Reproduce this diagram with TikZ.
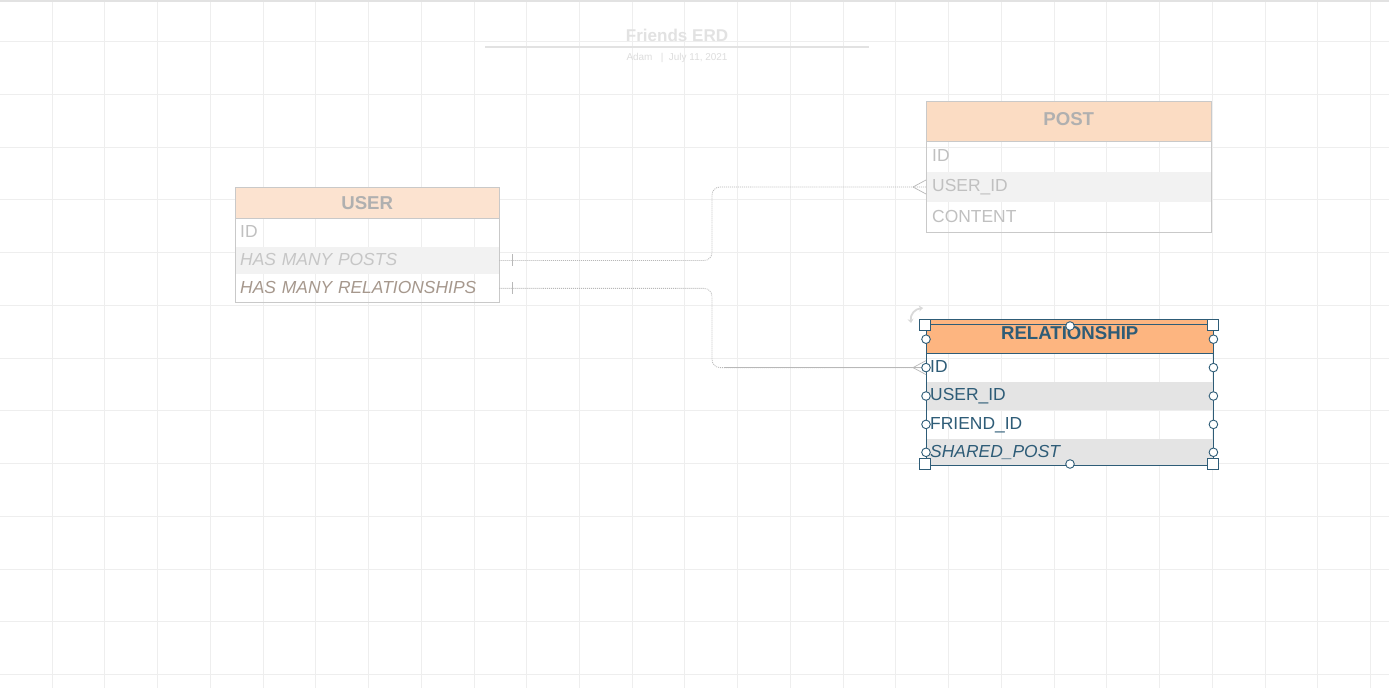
\documentclass[tikz,border=0pt]{standalone}
\usepackage{fontspec}
\setmainfont{Liberation Sans}
\usepackage{xcolor}
\usetikzlibrary{positioning,arrows.meta}

\definecolor{gridline}{HTML}{EEEEEE}
\definecolor{titlegray}{HTML}{E2E2E2}
\definecolor{peach}{HTML}{FCE3D0}
\definecolor{peachpost}{HTML}{FBDCC3}
\definecolor{paleborder}{HTML}{C9C9C9}
\definecolor{paletext}{HTML}{C0C0C0}
\definecolor{hdrtext}{HTML}{B0B0B0}
\definecolor{stripe}{HTML}{F2F2F2}
\definecolor{relbrown}{HTML}{A6988D}
\definecolor{relorange}{HTML}{FDB580}
\definecolor{relblue}{HTML}{2E5C77}
\definecolor{relstripe}{HTML}{E4E4E4}
\definecolor{linkgray}{HTML}{B8B8B8}

\tikzset{
  hdr/.style={anchor=north west, inner sep=0pt, font=\bfseries\fontsize{18.7}{20}\selectfont},
  row/.style={inner xsep=#1, inner ysep=0pt, align=left, text height=10, text depth=0pt,
    font=\fontsize{17.5}{18}\selectfont},
  link/.style={linkgray, line width=0.8pt, dash pattern=on 1pt off 1pt},
  handle/.style={draw=relblue, fill=white, line width=0.9pt},
}

\begin{document}
\begin{tikzpicture}[x=1bp,y=-1bp]
  \useasboundingbox (0,0) rectangle (1389,688);
  \fill[white] (0,0) rectangle (1389,688);

  % Grid
  \foreach \i in {1,...,26}
    \draw[gridline, line width=1.5bp] ({round(-1+52.73*\i)+0.5},0) -- ({round(-1+52.73*\i)+0.5},688);
  \foreach \j in {1,...,13}
    \draw[gridline, line width=1.5bp] (0,{round(-11.45+52.73*\j)+0.5}) -- (1389,{round(-11.45+52.73*\j)+0.5});
  \draw[titlegray, line width=1.5bp] (0,1) -- (1389,1);

  % Title block
  \node[text=titlegray, font=\bfseries\fontsize{17.1}{18}\selectfont] (title) at (677,35) {Friends ERD};
  \draw[titlegray, line width=1.5bp] (485,47) -- (869,47);
  \node[text=titlegray!95!gray, font=\fontsize{10}{11}\selectfont] (sub) at (677,57.5) {Adam \ \ | \ July 11, 2021};

  % USER table
  \node[hdr, fill=peach, text=hdrtext, minimum width=264bp, minimum height=31bp] (uhead) at (235,187) {USER};
  \node[row=5bp, text width=254bp, minimum height=28bp, text=paletext, below=0pt of uhead] (uid) {ID};
  \node[row=5bp, text width=254bp, minimum height=27bp, fill=stripe, text=paletext!90!white, below=0pt of uid] (uposts) {\itshape HAS MANY POSTS};
  \node[row=5bp, text width=254bp, minimum height=28bp, text=relbrown, below=0pt of uposts] (urels) {\itshape HAS MANY RELATIONSHIPS};
  \draw[paleborder, line width=0.9bp] (uhead.north west) rectangle (urels.south east);
  \draw[paleborder, line width=0.9bp] (uhead.south west) -- (uhead.south east);

  % POST table
  \node[hdr, fill=peachpost, text=hdrtext, minimum width=285bp, minimum height=40bp, text depth=4] (phead) at (926,101) {POST};
  \node[row=6bp, text width=273bp, minimum height=30bp, text=paletext, below=0pt of phead] (pid) {ID};
  \node[row=6bp, text width=273bp, minimum height=30bp, fill=stripe, text=paletext, below=0pt of pid] (puid) {USER\_ID};
  \node[row=6bp, text width=273bp, minimum height=30bp, text=paletext, below=0pt of puid] (pcontent) {CONTENT};
  \draw[paleborder, line width=0.9bp] (phead.north west) rectangle (pcontent.south east);
  \draw[paleborder, line width=0.9bp] (phead.south west) -- (phead.south east);

  % RELATIONSHIP table
  \node[hdr, fill=relorange, text=relblue, minimum width=287bp, minimum height=34bp, text depth=6] (rhead) at (926,319) {RELATIONSHIP};
  \node[row=4bp, text width=279bp, minimum height=28bp, text=relblue, below=0pt of rhead] (rid) {ID};
  \node[row=4bp, text width=279bp, minimum height=28bp, fill=relstripe, text=relblue, below=0pt of rid] (ruid) {USER\_ID};
  \node[row=4bp, text width=279bp, minimum height=28bp, text=relblue, below=0pt of ruid] (rfid) {FRIEND\_ID};
  \node[row=4bp, text width=279bp, minimum height=27bp, fill=relstripe, text=relblue, below=0pt of rfid] (rshared) {\itshape SHARED\_POST};
  \draw[relblue, line width=1bp] (rhead.north west) rectangle (rshared.south east);
  \draw[relblue, line width=1.6bp] (rhead.south west) -- (rhead.south east);

  % Connectors
  \coordinate (bendx) at (712,0);
  \draw[link, rounded corners=8bp] (uposts.east) -- (uposts.east -| bendx) -- (bendx |- puid.west) -- (puid.west);
  \draw[link, rounded corners=8bp] (urels.east) -- (urels.east -| bendx) -- (bendx |- rid.west) -- (rid.west);
  \draw[linkgray] ([xshift=12bp]bendx |- rid.west) -- (rid.west);

  % one marks
  \draw[linkgray, line width=0.7pt] ([xshift=13bp]uposts.east) ++(0,-6) -- ++(0,12);
  \draw[linkgray, line width=0.7pt] ([xshift=13bp]urels.east) ++(0,-6) -- ++(0,12);

  % many marks
  \draw[linkgray, line width=0.7pt] ([xshift=-13bp]puid.west) -- ++(13,-7);
  \draw[linkgray, line width=0.7pt] ([xshift=-13bp]puid.west) -- ++(13,7);
  \draw[linkgray, line width=0.7pt] ([xshift=-13bp]rid.west) -- ++(13,-7);
  \draw[linkgray, line width=0.7pt] ([xshift=-13bp]rid.west) -- ++(13,7);

  % Selection handles
  \draw[relblue, line width=0.8bp] (925,324.5) -- (1213,324.5);
  \foreach \r in {rid,ruid,rfid,rshared} {
    \draw[handle] (\r.west) circle (4.3);
    \draw[handle] (\r.east) circle (4.3);
  }
  \draw[handle] ([yshift=-3bp]rhead.west) circle (4.3);
  \draw[handle] ([yshift=-3bp]rhead.east) circle (4.3);
  \draw[handle] (1070,326) circle (4.3);
  \draw[handle] (1070,464) circle (4.3);
  \foreach \p in {(925,324.5),(1213,324.5),(925,463.5),(1213,463.5)}
    \draw[handle] \p ++(-5.5,-5.5) rectangle ++(11,11);
  \draw[gray!30, line width=1.8bp, {Stealth[length=4bp,width=6bp]}-{Stealth[length=4bp,width=6bp]}] (911,323) .. controls (910,314) and (915,309) .. (923,308);
\end{tikzpicture}
\end{document}
